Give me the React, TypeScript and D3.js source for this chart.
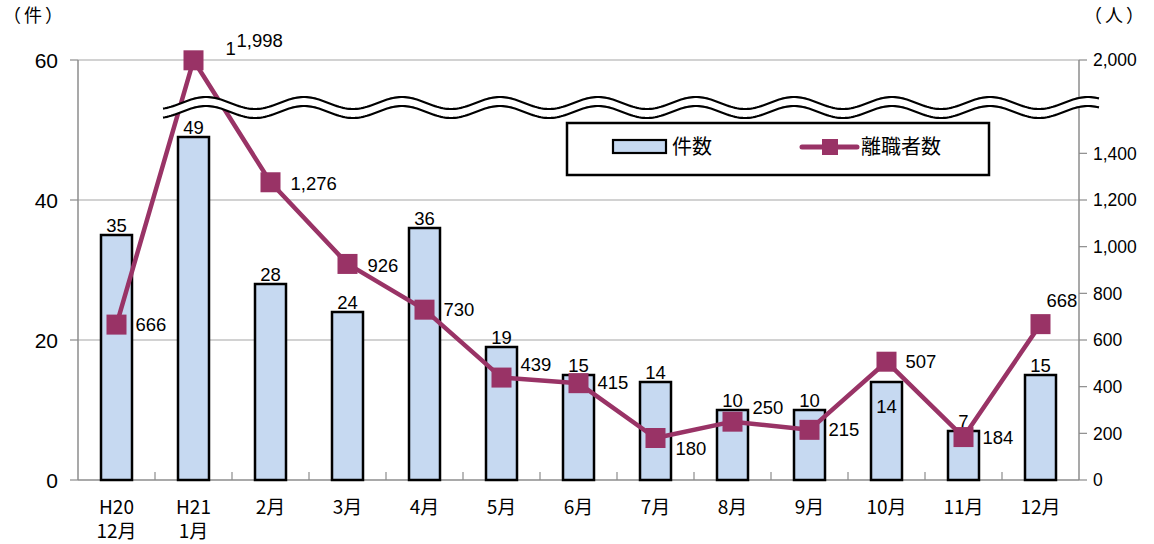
import React from 'react';
import * as d3 from 'd3';

const categories: string[][] = [["H20", "12月"], ["H21", "1月"], ["2月"], ["3月"], ["4月"], ["5月"], ["6月"], ["7月"], ["8月"], ["9月"], ["10月"], ["11月"], ["12月"]];
const cases = [35, 49, 28, 24, 36, 19, 15, 14, 10, 10, 14, 7, 15];
const leavers = [666, 1998, 1276, 926, 730, 439, 415, 180, 250, 215, 507, 184, 668];
const leftTicks = [0, 20, 40, 60];
const rightTicks = [0, 200, 400, 600, 800, 1000, 1200, 1400, 2000];
const legendLabels = ["件数", "離職者数"];
const leftUnit = "（件）";
const rightUnit = "（人）";

// label layout tweaks (not data)
const lineLabelDx = [19, 43, 20, 20, 19, 19, 19, 20, 20, 19, 19, 19, 6];
const lineLabelDy = [0, -20, 1, 1, 0, -13, -1, 10, -14, 0, 0, 0, -24];
const barLabelInside = [false, false, false, false, false, false, false, false, false, false, true, false, false];

const W = 1154, H = 544;
const X0 = 78, X1 = 1079, Y0 = 480, YT = 60;
const BAR_FILL = '#C6D9F1';
const LINE_COLOR = '#993366';
const AXIS = '#8C8C8C';
const NUM_FONT = '"Liberation Sans", Arial, sans-serif';
const JP_FONT = '"Noto Sans CJK JP", "Noto Sans", sans-serif';

export default function App() {
  const keys = categories.map(c => c.join(' '));
  const x = d3.scaleBand<string>().domain(keys).range([X0, X1]).paddingInner(0).paddingOuter(0);
  const yL = d3.scaleLinear().domain([0, 60]).range([Y0, YT]);
  const perUnit = (Y0 - YT) / 1800;
  const yR = d3.scaleLinear().domain([0, 1400, 2000]).range([Y0, Y0 - 1400 * perUnit, YT]);
  const barW = 31;
  const cx = (i: number) => (x(keys[i]) as number) + x.bandwidth() / 2;
  const fmt = d3.format(',');

  const linePath = d3.line<number>().x((_, i) => cx(i)).y(d => yR(d))(leavers) || '';

  // wave break decoration
  const waveStart = 163, waveEnd = 1100, P = 98, A = 6, crest = 206, upperC = 103, gap = 9;
  const xs = d3.range(waveStart, waveEnd + 0.5, 2);
  const upper = xs.map(xx => [xx, upperC - A * Math.cos(2 * Math.PI * (xx - crest) / P)] as [number, number]);
  const lower = upper.map(([xx, yy]) => [xx, yy + gap] as [number, number]);
  const lg = d3.line();
  const upperPath = lg(upper) || '';
  const lowerPath = lg(lower) || '';
  const fillPath = (lg(upper.concat(lower.slice().reverse())) || '') + 'Z';

  return (
    <div style={{ position: 'absolute', left: 0, top: 0 }}>
      <svg width={W} height={H} style={{ display: 'block', background: '#fff' }}>
        {/* gridlines */}
        {leftTicks.filter(t => t > 0).map(t => (
          <line key={'g' + t} x1={X0} x2={X1} y1={yL(t)} y2={yL(t)} stroke="#A6A6A6" strokeWidth={1.2} />
        ))}
        {/* axes */}
        <line x1={X0} x2={X0} y1={YT} y2={Y0} stroke={AXIS} strokeWidth={1.5} />
        <line x1={X1} x2={X1} y1={YT} y2={Y0} stroke={AXIS} strokeWidth={1.5} />
        <line x1={X0} x2={X1} y1={Y0} y2={Y0} stroke={AXIS} strokeWidth={1.5} />
        {leftTicks.map(t => (
          <g key={'lt' + t}>
            <line x1={X0 - 8} x2={X0} y1={yL(t)} y2={yL(t)} stroke={AXIS} strokeWidth={1.2} />
            <text x={58} y={yL(t)} dy="0.36em" textAnchor="end" fontFamily={NUM_FONT} fontSize={21} fill="#000">{t}</text>
          </g>
        ))}
        {rightTicks.map(t => (
          <g key={'rt' + t}>
            <line x1={X1} x2={X1 + 8} y1={yR(t)} y2={yR(t)} stroke={AXIS} strokeWidth={1.2} />
            <text x={1093} y={yR(t)} dy="0.36em" textAnchor="start" fontFamily={NUM_FONT} fontSize={17.5} fill="#000">{fmt(t)}</text>
          </g>
        ))}
        {keys.slice(1).map((k, i) => (
          <line key={'ct' + i} x1={x(k) as number} x2={x(k) as number} y1={Y0 - 8} y2={Y0} stroke={AXIS} strokeWidth={1.2} />
        ))}
        {categories.map((c, i) => (
          <text key={'cl' + i} x={cx(i)} y={514} textAnchor="middle" fontFamily={JP_FONT} fontSize={19} fill="#000">
            {c.map((s, j) => (
              <tspan key={j} x={cx(i)} dy={j === 0 ? 0 : 24}>{s}</tspan>
            ))}
          </text>
        ))}
        {/* bars */}
        {cases.map((v, i) => (
          <rect key={'b' + i} x={cx(i) - barW / 2} y={yL(v)} width={barW} height={Y0 - yL(v)} fill={BAR_FILL} stroke="#000" strokeWidth={2.5} />
        ))}
        {cases.map((v, i) => (
          <text key={'bl' + i} x={cx(i)} y={barLabelInside[i] ? yL(v) + 31 : yL(v) - 3.5} textAnchor="middle" fontFamily={NUM_FONT} fontSize={18.5} fill="#000">{v}</text>
        ))}
        {/* line */}
        <path d={linePath} fill="none" stroke={LINE_COLOR} strokeWidth={4.5} strokeLinejoin="round" />
        {leavers.map((v, i) => (
          <rect key={'m' + i} x={cx(i) - 10} y={yR(v) - 10} width={20} height={20} fill={LINE_COLOR} />
        ))}
        {leavers.map((v, i) => (
          <text key={'ll' + i} x={cx(i) + lineLabelDx[i]} y={yR(v) + lineLabelDy[i]} dy="0.36em" fontFamily={NUM_FONT} fontSize={18.5} fill="#000">{fmt(v)}</text>
        ))}
        <text x={cx(1) + 32} y={yR(leavers[1]) - 12} dy="0.36em" fontFamily={NUM_FONT} fontSize={18.5} fill="#000">1</text>
        {/* wave break */}
        <path d={fillPath} fill="#fff" stroke="none" />
        <path d={upperPath} fill="none" stroke="#000" strokeWidth={2.2} />
        <path d={lowerPath} fill="none" stroke="#000" strokeWidth={2.2} />
        {/* legend */}
        <rect x={567} y={123} width={422} height={52} fill="#fff" stroke="#000" strokeWidth={2.5} />
        <rect x={613} y={140} width={53} height={13} fill={BAR_FILL} stroke="#000" strokeWidth={2.2} />
        <text x={672} y={147} dy="0.36em" fontFamily={JP_FONT} fontSize={20} fill="#000">{legendLabels[0]}</text>
        <line x1={802} x2={857} y1={147} y2={147} stroke={LINE_COLOR} strokeWidth={5} strokeLinecap="round" />
        <rect x={822} y={139} width={16} height={16} fill={LINE_COLOR} />
        <text x={861} y={147} dy="0.36em" fontFamily={JP_FONT} fontSize={20} fill="#000">{legendLabels[1]}</text>
        {/* unit labels */}
        <text x={3} y={16} dy="0.36em" fontFamily={JP_FONT} fontSize={18} fill="#000" letterSpacing={3}>{leftUnit}</text>
        <text x={1084} y={16} dy="0.36em" fontFamily={JP_FONT} fontSize={18} fill="#000" letterSpacing={3}>{rightUnit}</text>
      </svg>
    </div>
  );
}
